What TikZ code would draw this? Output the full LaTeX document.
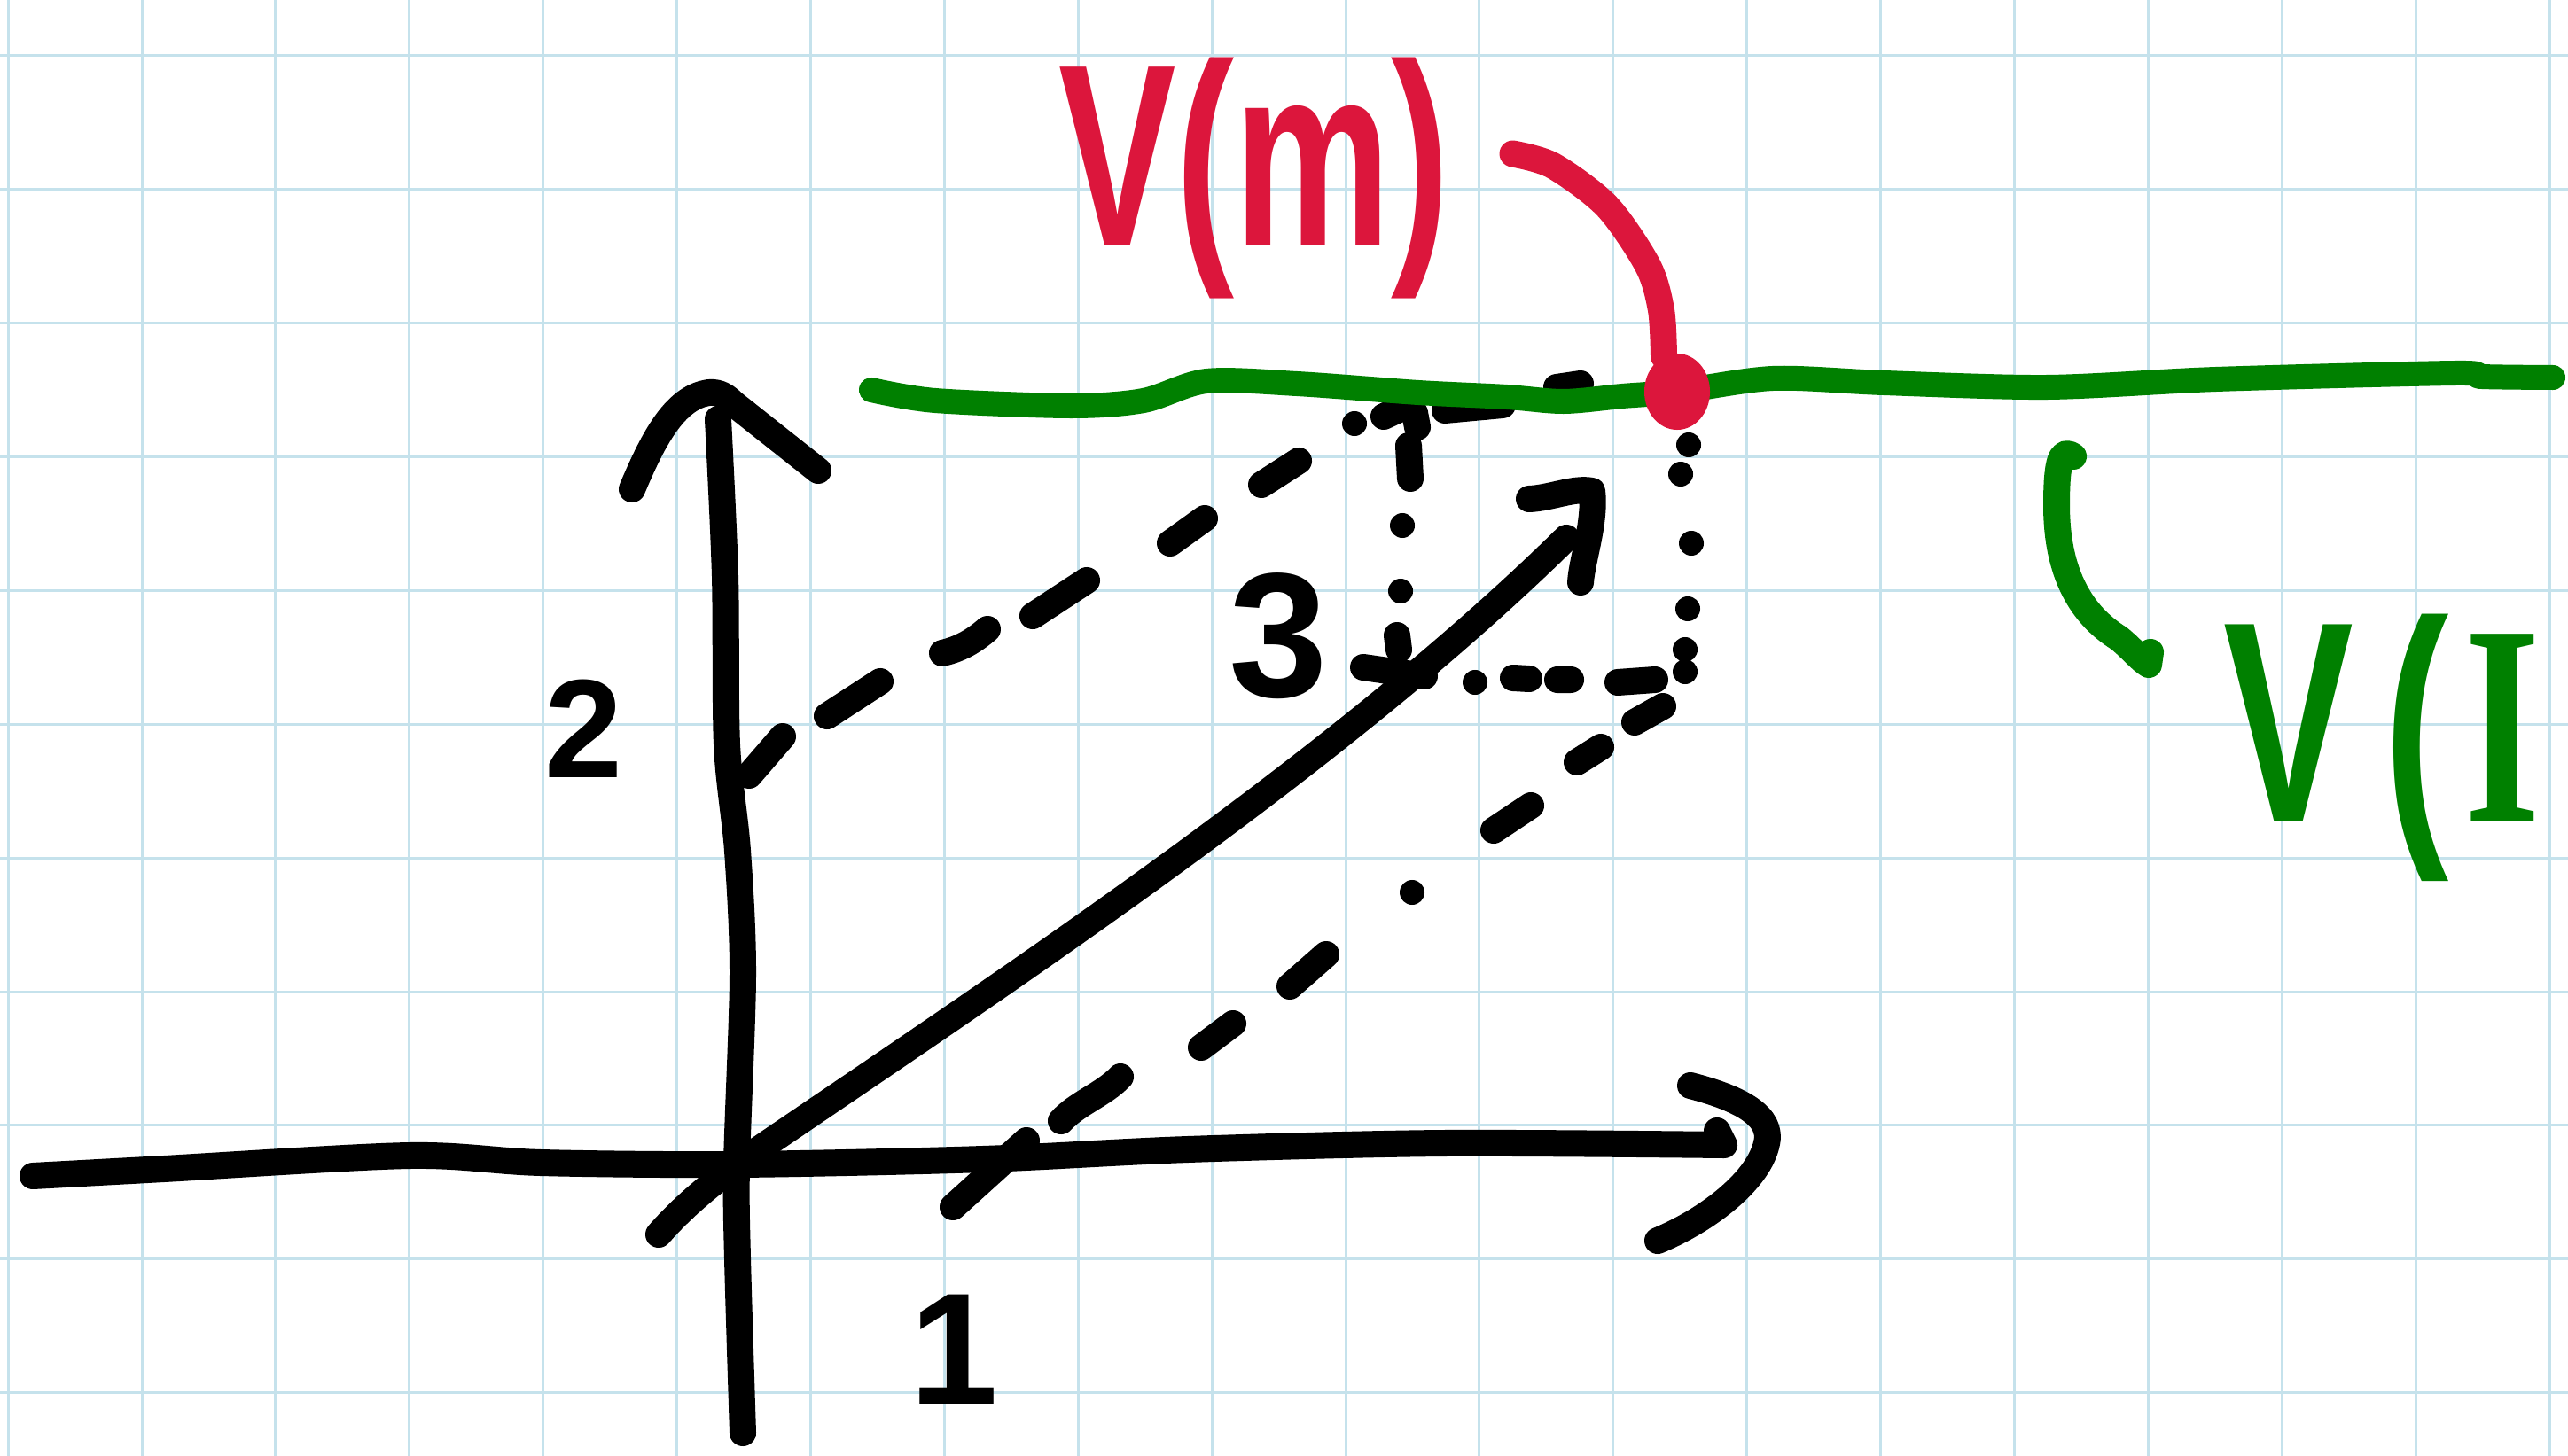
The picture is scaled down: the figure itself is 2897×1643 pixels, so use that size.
\documentclass[tikz,border=0pt]{standalone}
\usepackage{graphicx}
\usepackage{fontspec}
\setmainfont{Liberation Sans}
\newfontfamily\serifhand{Liberation Serif}
\usepackage{tikz}
\usetikzlibrary{calc,positioning}
\definecolor{gridblue}{RGB}{197,226,236}
\definecolor{inkred}{RGB}{220,22,60}
\definecolor{inkgreen}{RGB}{0,128,0}

\begin{document}
\begin{tikzpicture}[x=0.01cm,y=-0.01cm,
  ink/.style={line width=0.3cm,line cap=round,line join=round},
  hand/.style={inner sep=0pt,outer sep=0pt}]

\useasboundingbox (0,0) rectangle (2897,1643);
\fill[white] (0,0) rectangle (2897,1643);

% squared paper
\begin{scope}[shift={(9.2,62.8)}]
\draw[gridblue,line width=0.03cm,step=1.508cm] (-100,1700) grid (2950,-100);
\end{scope}

\coordinate (O) at (831,1314);
\coordinate (tip) at (1767,607);
\coordinate (pm) at (1892,442);

% axes
\draw[ink] plot[smooth,tension=0.5] coordinates {(37,1327) (185,1319) (462,1304) (610,1312) (O) (1109,1308) (1340,1297) (1630,1290) (1945,1292)} -- (1937,1276);
\draw[ink] (1907,1225) .. controls (1965,1240) and (2000,1260) .. (1993,1290) .. controls (1985,1330) and (1930,1375) .. (1870,1400);
\draw[ink] plot[smooth,tension=0.5] coordinates {(838,1617) (832,1420) (O) (838,1100) (832,960) (820,840) (818,650) (810,473)};
\draw[ink] (713,552) .. controls (735,500) and (760,448) .. (800,443) .. controls (812,442) and (820,448) .. (827,455) -- (923,531);

% the vector
\draw[ink] (743,1393) .. controls (770,1362) and (800,1338) .. (O) .. controls (1100,1130) and (1500,870) .. (tip);
\draw[ink] (1725,563) .. controls (1750,562) and (1775,550) .. (1796,554) .. controls (1800,590) and (1785,630) .. (1783,657);

% dashed and dotted guides
\draw[ink] (845,875)--(883,831) (933,808)--(993,769) (1063,737) .. controls (1085,732) and (1100,722) .. (1114,710) (1165,695)--(1226,655) (1320,613)--(1359,585) (1423,547)--(1465,520) (1561,470)--(1576,463) (1630,463)--(1695,457) (1756,437)--(1783,433);
\fill (1528,478) circle[radius=0.14cm];

\draw[ink] (1596,466)--(1599,482) (1589,503)--(1591,540) (1576,717)--(1578,733);
\fill (1582,593) circle[radius=0.14cm] (1580,667) circle[radius=0.14cm];

\draw[ink] (1538,753)--(1607,763) (1707,765)--(1725,766) (1757,767)--(1772,767) (1825,770)--(1867,767);
\fill (1664,770) circle[radius=0.14cm];

\fill (1905,502) circle[radius=0.14cm] (1896,535) circle[radius=0.14cm] (1908,613) circle[radius=0.14cm] (1904,687) circle[radius=0.14cm] (1901,733) circle[radius=0.14cm] (1901,758) circle[radius=0.14cm];

\draw[ink] (1075,1362)--(1158,1287) (1197,1265) .. controls (1215,1245) and (1245,1235) .. (1264,1215) (1355,1182)--(1391,1155) (1455,1113)--(1496,1077) (1685,937)--(1727,909) (1779,860)--(1806,843) (1844,815)--(1876,797);
\fill (1593,1007) circle[radius=0.14cm];

% numbers
\node[hand,font=\bfseries\fontsize{45}{45}\selectfont] (two) at (658,822) {2};
\node[hand,font=\bfseries\fontsize{51}{51}\selectfont] (one) at (1076,1523) {1};
\node[hand,font=\bfseries\fontsize{57}{57}\selectfont] (three) at (1442,718) {3};

% green line and red point
\draw[ink,inkgreen,line width=0.28cm] plot[smooth,tension=0.5] coordinates {(983,440) (1055,452) (1208,458) (1290,452) (1361,430) (1463,433) (1600,443) (1700,448) (1764,453) (1830,447) (pm) (2000,427) (2125,432) (2310,437) (2500,428) (2770,421) (2800,425) (2880,426)};
\fill[inkred] (pm) ellipse[x radius=0.37cm,y radius=0.43cm];

\node[hand,anchor=base,text=inkred,font=\bfseries\fontsize{83}{83}\selectfont] (vm) at (1415,277) {\scalebox{0.68}[1]{V(m)}};
\coordinate (ms) at ($(vm.east)+(71,-28)$);
\coordinate (me) at ($(pm)+(-15,-40)$);
\draw[ink,inkred] plot[smooth,tension=0.5] coordinates {(ms) (1752,187) (1813,233) (1859,300) (1874,350) (me)};

\node[hand,anchor=base west,text=inkgreen,font=\bfseries\fontsize{92}{92}\selectfont] (vi) at (2508,927) {\scalebox{0.68}[1]{V\kern0.16em(\kern0.08em{\serifhand\bfseries I}}};
\coordinate (gs) at (2339,515);
\coordinate (ge) at (2424,750);
\draw[ink,inkgreen] (gs) .. controls (2325,505) and (2320,520) .. (2320,570) .. controls (2320,650) and (2350,695) .. (2390,720) .. controls (2405,732) and (2415,745) .. (ge) -- (2426,736);

\end{tikzpicture}
\end{document}
